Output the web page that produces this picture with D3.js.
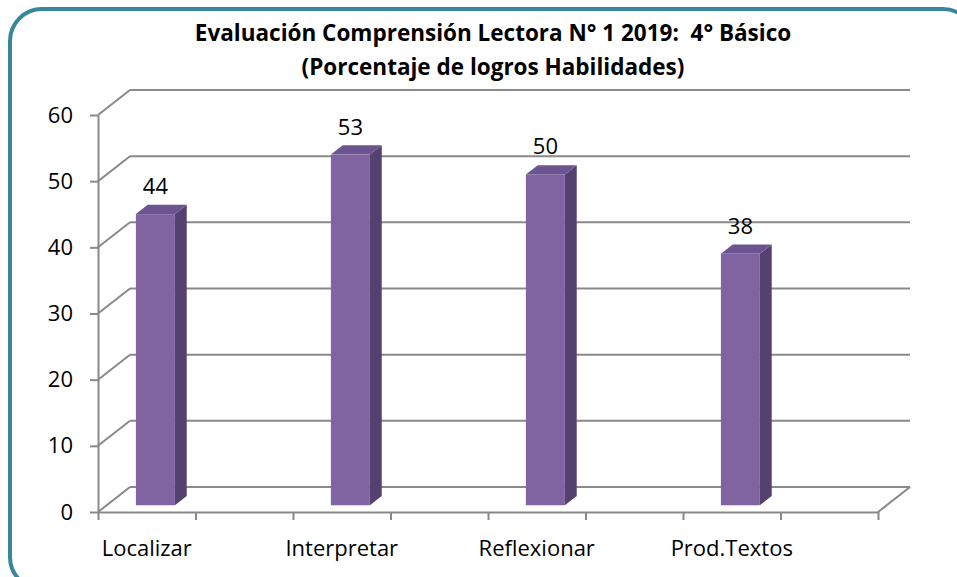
<!DOCTYPE html>
<html>
<head>
<meta charset="utf-8">
<script src="https://cdn.jsdelivr.net/npm/d3@7"></script>
<style>
  body { margin: 0; background: #fff; }
  text { font-family: "Open Sans", sans-serif; fill: #000; }
</style>
</head>
<body>
<div id="chart"></div>
<script>
"use-strict";

const titleLines = ["Evaluación Comprensión Lectora N° 1 2019:  4° Básico", "(Porcentaje de logros Habilidades)"];
const categories = ["Localizar", "Interpretar", "Reflexionar", "Prod.Textos"];
const values = [44, 53, 50, 38];
const yTicks = [0, 10, 20, 30, 40, 50, 60];

const msm = {
    width: 957,
    height: 577,
    left: 98,
    right: 878,
    top: 115,
    bottom: 512,
    depthX: 32,
    depthY: -25,
}

const barColors = {
    front: "#8064a2",
    side: "#54416f",
    top: "#6b5490",
}
const gridColor = "#898989";

let svg = d3.select("#chart").append("svg")
    .attr("width", msm.width)
    .attr("height", msm.height);

// frame
svg.append("rect")
    .attr("x", 10)
    .attr("y", 9)
    .attr("width", 965)
    .attr("height", 580)
    .attr("rx", 32)
    .attr("fill", "#fff")
    .attr("stroke", "#37869c")
    .attr("stroke-width", 4);

// y scale (front plane) and x slots (two slots per category)
let yScale = d3.scaleLinear().domain([0, 60]).range([msm.bottom, msm.top]);
let slots = categories.length * 2;
let xScale = d3.scaleLinear().domain([0, slots]).range([msm.left, msm.right]);

// offset at depth d (0 = front, 1 = back)
const dx = d => msm.depthX * d;
const dy = d => msm.depthY * d;

// back wall gridlines
svg.append("g")
    .selectAll("line")
    .data(yTicks)
    .enter()
    .append("line")
    .attr("x1", msm.left + dx(1))
    .attr("x2", msm.right + dx(1))
    .attr("y1", d => yScale(d) + dy(1))
    .attr("y2", d => yScale(d) + dy(1))
    .attr("stroke", gridColor)
    .attr("stroke-width", 2);

// side wall diagonals
svg.append("g")
    .selectAll("line")
    .data(yTicks)
    .enter()
    .append("line")
    .attr("x1", msm.left)
    .attr("x2", msm.left + dx(1))
    .attr("y1", d => yScale(d))
    .attr("y2", d => yScale(d) + dy(1))
    .attr("stroke", gridColor)
    .attr("stroke-width", 2);

// floor right edge
svg.append("line")
    .attr("x1", msm.right)
    .attr("x2", msm.right + dx(1))
    .attr("y1", yScale(0))
    .attr("y2", yScale(0) + dy(1))
    .attr("stroke", gridColor)
    .attr("stroke-width", 2);

// bars
const d0 = 0.27, d1 = 0.64;
const barW = (xScale(1) - xScale(0)) * 0.4;
let bars = svg.append("g")
    .selectAll("g")
    .data(categories.map((c, i) => ({ name: c, value: values[i], i: i })))
    .enter()
    .append("g");

const bx = d => xScale(d.i * 2 + 0.5) - barW / 2 + dx(d0);
const by = v => yScale(v) + dy(d0);

bars.append("path")
    .attr("fill", barColors.side)
    .attr("d", d => {
        let x = bx(d) + barW, t = by(d.value), b = by(0);
        let ox = dx(d1 - d0), oy = dy(d1 - d0);
        return `M${x},${t}L${x + ox},${t + oy}L${x + ox},${b + oy}L${x},${b}Z`;
    });
bars.append("path")
    .attr("fill", barColors.top)
    .attr("d", d => {
        let x = bx(d), t = by(d.value);
        let ox = dx(d1 - d0), oy = dy(d1 - d0);
        return `M${x},${t}L${x + ox},${t + oy}L${x + barW + ox},${t + oy}L${x + barW},${t}Z`;
    });
bars.append("rect")
    .attr("fill", barColors.front)
    .attr("x", d => bx(d))
    .attr("y", d => by(d.value))
    .attr("width", barW)
    .attr("height", d => by(0) - by(d.value));

// value labels
bars.append("text")
    .attr("x", d => bx(d) + barW / 2)
    .attr("y", d => by(d.value) - 20)
    .attr("text-anchor", "middle")
    .style("font-size", "22px")
    .text(d => d.value);

// axes
let yAxis = d3.axisLeft(yScale).tickValues(yTicks).tickSize(8).tickSizeOuter(0).tickPadding(17);
let yG = svg.append("g")
    .attr("transform", "translate(" + msm.left + ",0)")
    .call(yAxis);

let xAxis = d3.axisBottom(xScale).ticks(slots).tickSize(8).tickSizeOuter(0).tickFormat("");
let xG = svg.append("g")
    .attr("transform", "translate(0," + msm.bottom + ")")
    .call(xAxis);

[yG, xG].forEach(g => {
    g.select(".domain").attr("stroke", gridColor).attr("stroke-width", 2);
    g.selectAll(".tick line").attr("stroke", gridColor).attr("stroke-width", 2);
    g.selectAll(".tick text").style("font-size", "22px").attr("fill", "#000")
        .style("font-family", '"Open Sans", sans-serif');
});

// category labels
svg.append("g")
    .selectAll("text")
    .data(categories)
    .enter()
    .append("text")
    .attr("x", (d, i) => xScale(i * 2 + 0.5))
    .attr("y", 556)
    .attr("text-anchor", "middle")
    .style("font-size", "22px")
    .text(d => d);

// title
svg.append("g")
    .selectAll("text")
    .data(titleLines)
    .enter()
    .append("text")
    .attr("x", 493)
    .attr("y", (d, i) => 41 + i * 34)
    .attr("text-anchor", "middle")
    .style("font-size", "22.5px")
    .style("font-weight", "bold")
    .style("white-space", "pre")
    .text(d => d);
</script>
</body>
</html>
